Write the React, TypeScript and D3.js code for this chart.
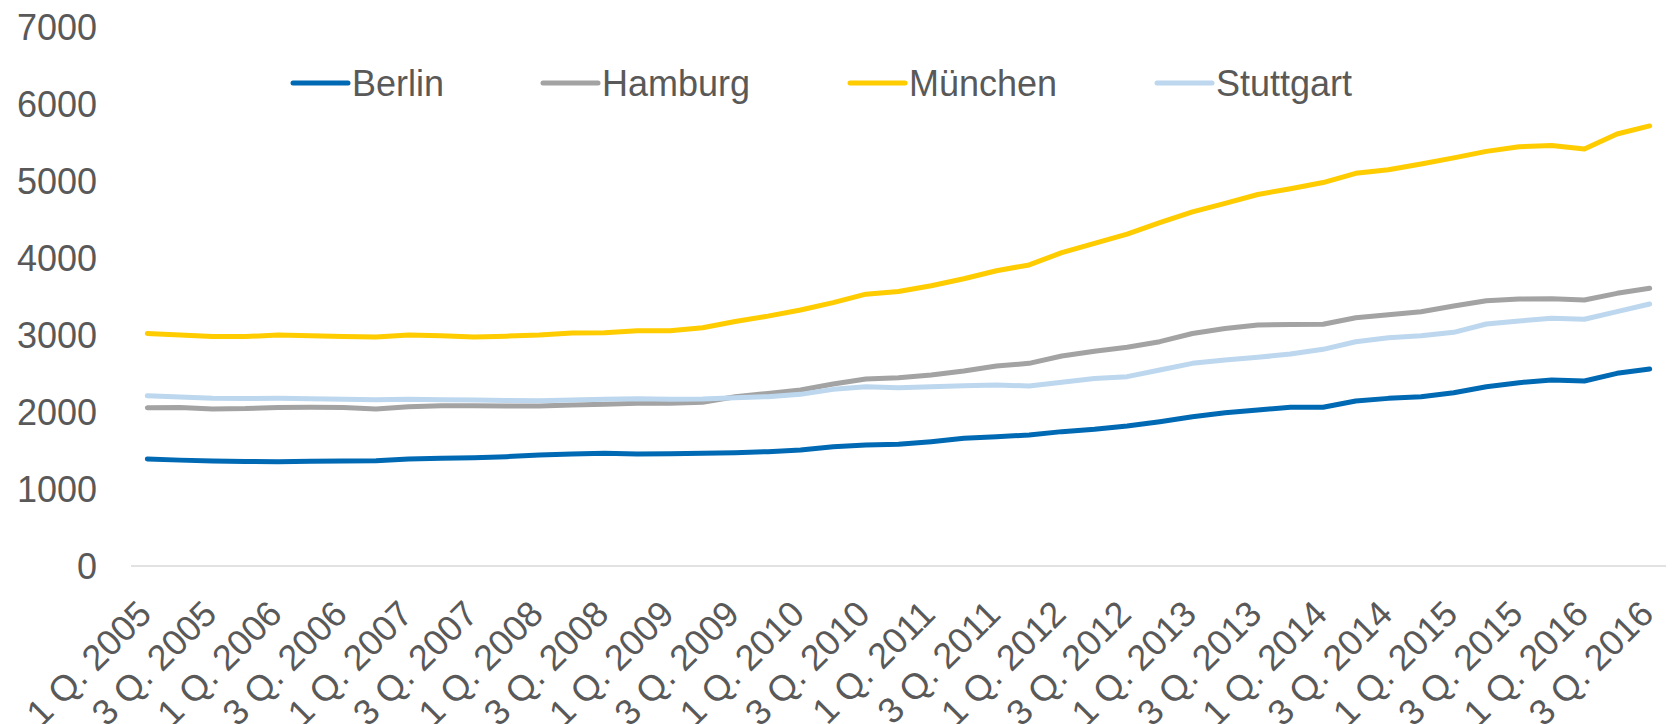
import React, { useEffect, useRef } from 'react';
import * as d3 from 'd3';

// quarters 1 Q. 2005 .. 3 Q. 2016
const years = d3.range(2005, 2017);
const quarters = years.flatMap((y) => [1, 2, 3, 4].map((q) => `${q} Q. ${y}`)).slice(0, 47);

const berlin = [
  1390, 1375, 1364, 1358, 1355, 1360, 1364, 1368, 1390, 1398, 1407, 1420, 1440, 1455, 1463, 1455,
  1458, 1463, 1470, 1485, 1506, 1550, 1571, 1580, 1615, 1658, 1680, 1701, 1745, 1775, 1818, 1874,
  1939, 1991, 2026, 2061, 2061, 2143, 2177, 2199, 2251, 2329, 2381, 2416, 2403, 2502, 2558,
];
const hamburg = [
  2055, 2058, 2040, 2045, 2060, 2062, 2058, 2040, 2068, 2080, 2082, 2078, 2078, 2091, 2100, 2113,
  2113, 2126, 2199, 2242, 2286, 2364, 2429, 2446, 2481, 2532, 2597, 2632, 2727, 2790, 2840, 2913,
  3020, 3085, 3130, 3135, 3140, 3225, 3262, 3303, 3377, 3446, 3468, 3470, 3455, 3541, 3606,
];
const muenchen = [
  3020, 3000, 2980, 2980, 3000, 2990, 2980, 2975, 3000, 2990, 2975, 2985, 3000, 3025, 3030, 3055,
  3055, 3095, 3175, 3245, 3325, 3420, 3530, 3565, 3640, 3730, 3835, 3910, 4070, 4190, 4310, 4460,
  4600, 4710, 4825, 4900, 4980, 5100, 5145, 5220, 5300, 5385, 5445, 5460, 5415, 5610, 5715,
];
const stuttgart = [
  2210, 2195, 2178, 2175, 2178, 2172, 2164, 2158, 2164, 2160, 2156, 2150, 2145, 2156, 2164, 2173,
  2164, 2169, 2186, 2199, 2229, 2294, 2329, 2316, 2329, 2342, 2351, 2338, 2385, 2435, 2459, 2545,
  2632, 2675, 2710, 2753, 2814, 2913, 2965, 2991, 3035, 3143, 3182, 3217, 3204, 3303, 3403,
];

const seriesNames = ['Berlin', 'Hamburg', 'München', 'Stuttgart'];
const seriesValues = [berlin, hamburg, muenchen, stuttgart];
const seriesColors = ['#0069B4', '#A3A3A3', '#FFCC00', '#BDD7EE'];
const yTicks = [0, 1000, 2000, 3000, 4000, 5000, 6000, 7000];

const FONT = '"Liberation Sans", Arial, sans-serif';
const TEXT = '#595959';

const App: React.FC = () => {
  const svgRef = useRef<SVGSVGElement>(null);

  useEffect(() => {
    if (!svgRef.current) return;
    const svg = d3.select(svgRef.current);
    svg.selectAll('*').remove();

    const x = d3.scaleBand<string>().domain(quarters).range([131, 1666]).padding(0);
    const cx = (q: string) => (x(q) as number) + x.bandwidth() / 2;
    const y = d3.scaleLinear().domain([0, 7000]).range([566, 27]);

    // y labels
    svg.append('g')
      .selectAll('text')
      .data(yTicks)
      .join('text')
      .attr('x', 97)
      .attr('y', (d) => y(d))
      .attr('dy', '0.35em')
      .attr('text-anchor', 'end')
      .style('font-family', FONT)
      .style('font-size', '36px')
      .style('fill', TEXT)
      .text((d) => d);

    // category axis line
    svg.append('line')
      .attr('x1', 131)
      .attr('x2', 1666)
      .attr('y1', y(0))
      .attr('y2', y(0))
      .style('stroke', '#D9D9D9')
      .style('stroke-width', 1.5);

    // x labels, every second quarter
    svg.append('g')
      .selectAll('text')
      .data(quarters.filter((_, i) => i % 2 === 0))
      .join('text')
      .attr('transform', (d) => `translate(${cx(d) + 6},616) rotate(-45)`)
      .attr('text-anchor', 'end')
      .style('font-family', FONT)
      .style('font-size', '36px')
      .style('fill', TEXT)
      .text((d) => d);

    // lines
    const line = d3.line<number>()
      .x((_, i) => cx(quarters[i]))
      .y((d) => y(d));

    seriesValues.forEach((vals, si) => {
      svg.append('path')
        .datum(vals)
        .attr('d', line)
        .style('fill', 'none')
        .style('stroke', seriesColors[si])
        .style('stroke-width', 5)
        .style('stroke-linecap', 'round')
        .style('stroke-linejoin', 'round');
    });

    // legend
    const legendX = [293, 543, 850, 1157];
    const legendY = 83;
    seriesNames.forEach((name, i) => {
      const lg = svg.append('g').attr('transform', `translate(${legendX[i]},${legendY})`);
      lg.append('line')
        .attr('x1', 0)
        .attr('x2', 55)
        .attr('y1', 0)
        .attr('y2', 0)
        .style('stroke', seriesColors[i])
        .style('stroke-width', 5)
        .style('stroke-linecap', 'round');
      lg.append('text')
        .attr('x', 59)
        .attr('y', 0)
        .attr('dy', '0.35em')
        .style('font-family', FONT)
        .style('font-size', '36px')
        .style('fill', TEXT)
        .text(name);
    });
  }, []);

  return (
    <svg
      ref={svgRef}
      width={1673}
      height={724}
      style={{ position: 'absolute', left: 0, top: 0, background: '#fff' }}
    />
  );
};

export default App;
